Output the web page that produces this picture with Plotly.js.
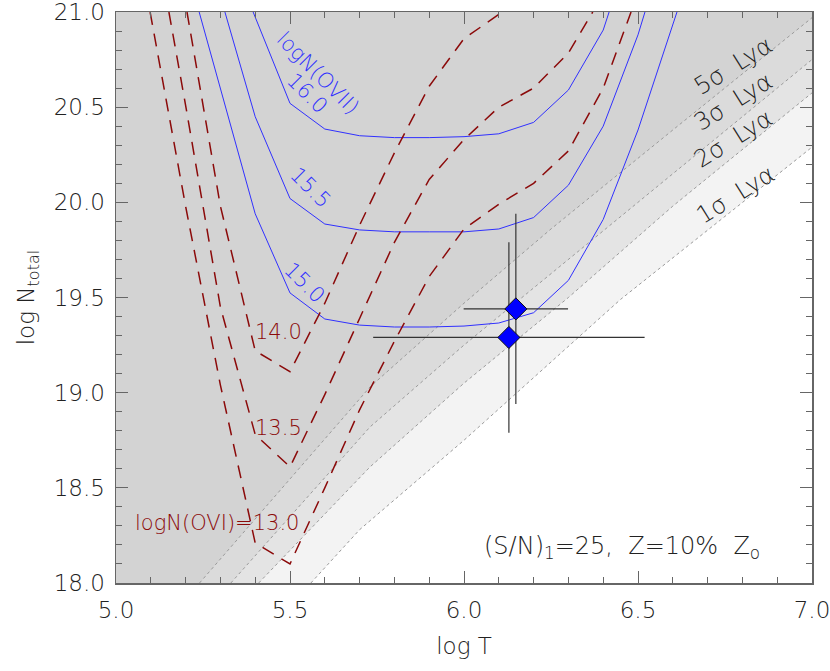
<!DOCTYPE html>
<html lang="en">
<head>
    <meta charset="UTF-8">
    <title>log N vs log T</title>
    <script src="https://cdn.plot.ly/plotly-3.0.1.min.js"></script>
    <style>
        body { margin: 0; background: #fff; }
        #plot { width: 830px; height: 671px; }
    </style>
</head>
<body>
<div id="plot"></div>
<script>

// axis extents
let xRange = [5.0, 7.0];
let yRange = [18.0, 21.0];

// Ly-alpha detection limits (boundaries of the shaded bands)
let sig5T = [5.24, 5.73, 6.0, 6.25, 6.6, 7.0];
let sig5N = [18.0, 19.03, 19.47, 19.86, 20.38, 20.97];
let sig3T = [5.33, 5.73, 6.0, 6.3, 6.6, 7.0];
let sig3N = [18.0, 18.82, 19.25, 19.7, 20.15, 20.75];
let sig2T = [5.41, 5.73, 6.0, 6.3, 6.6, 7.0];
let sig2N = [18.0, 18.61, 19.05, 19.5, 19.98, 20.575];
let sig1T = [5.56, 5.7, 6.0, 6.45, 7.0];
let sig1N = [18.0, 18.28, 18.75, 19.49, 20.29];

// logN(OVII) contours
let o7_160T = [5.394, 5.5, 5.6, 5.7, 5.8, 5.9, 6.0, 6.1, 6.2, 6.3, 6.4, 6.417];
let o7_160N = [21.0, 20.52, 20.385, 20.35, 20.34, 20.34, 20.345, 20.36, 20.42, 20.59, 20.905, 21.0];
let o7_155T = [5.313, 5.4, 5.5, 5.6, 5.7, 5.8, 5.9, 6.0, 6.1, 6.2, 6.3, 6.4, 6.5, 6.52];
let o7_155N = [21.0, 20.45, 20.02, 19.886, 19.855, 19.845, 19.845, 19.845, 19.86, 19.92, 20.09, 20.40, 20.88, 21.0];
let o7_150T = [5.239, 5.3, 5.4, 5.5, 5.6, 5.7, 5.8, 5.9, 6.0, 6.1, 6.2, 6.3, 6.4, 6.5, 6.6, 6.612];
let o7_150N = [21.0, 20.6, 19.94, 19.524, 19.387, 19.355, 19.345, 19.345, 19.35, 19.366, 19.42, 19.59, 19.91, 20.38, 20.93, 21.0];

// logN(OVI) contours
let o6_140T = [5.204, 5.3, 5.4, 5.5, 5.6, 5.7, 5.8, 5.9, 6.0, 6.11];
let o6_140N = [21.0, 19.98, 19.22, 19.11, 19.47, 19.88, 20.26, 20.61, 20.86, 21.0];
let o6_135T = [5.152, 5.2, 5.3, 5.4, 5.5, 5.6, 5.7, 5.8, 5.9, 6.0, 6.1, 6.2, 6.3, 6.37];
let o6_135N = [21.0, 20.51, 19.45, 18.78, 18.61, 18.99, 19.39, 19.79, 20.12, 20.33, 20.50, 20.60, 20.785, 21.0];
let o6_130T = [5.098, 5.2, 5.3, 5.4, 5.5, 5.6, 5.7, 5.8, 5.9, 6.0, 6.1, 6.2, 6.3, 6.4, 6.48];
let o6_130N = [21.0, 19.98, 19.04, 18.21, 18.10, 18.50, 18.91, 19.27, 19.61, 19.86, 19.99, 20.10, 20.27, 20.60, 21.0];

// measurements
let obsT = [6.149, 6.129];
let obsN = [19.44, 19.29];
let obsTerr = [0.15, 0.39];
let obsNerr = [0.5, 0.5];

// region above a boundary, closed along the top-left corner of the frame
function band(xs, ys, color) {
    return {
        x: xs.concat([xRange[1], xRange[0], xRange[0]]),
        y: ys.concat([yRange[1], yRange[1], yRange[0]]),
        mode: 'lines', fill: 'toself', fillcolor: color,
        line: { width: 0 }, hoverinfo: 'skip', showlegend: false
    };
}
function edge(xs, ys) {
    return {
        x: xs, y: ys, mode: 'lines',
        line: { color: '#9a9a9a', width: 1, dash: 'dot' },
        hoverinfo: 'skip', showlegend: false
    };
}
function contour(xs, ys, color, dash, w) {
    return {
        x: xs, y: ys, mode: 'lines',
        line: { color: color, width: w, dash: dash },
        showlegend: false
    };
}

const blue = '#3030ff';
const red = '#8b0a0a';

let data = [
    band(sig1T, sig1N, '#f3f3f3'),
    band(sig2T, sig2N, '#e4e4e4'),
    band(sig3T, sig3N, '#dbdbdb'),
    band(sig5T, sig5N, '#d3d3d3'),
    edge(sig1T, sig1N),
    edge(sig2T, sig2N),
    edge(sig3T, sig3N),
    edge(sig5T, sig5N),
    contour(o7_160T, o7_160N, blue, 'solid', 1),
    contour(o7_155T, o7_155N, blue, 'solid', 1),
    contour(o7_150T, o7_150N, blue, 'solid', 1),
    contour(o6_140T, o6_140N, red, '13px,9px', 1.5),
    contour(o6_135T, o6_135N, red, '13px,9px', 1.5),
    contour(o6_130T, o6_130N, red, '13px,9px', 1.5),
    {
        x: obsT, y: obsN, mode: 'markers',
        marker: { symbol: 'diamond', size: 17, color: '#0000ff', line: { color: '#111', width: 1 } },
        error_x: { type: 'data', array: obsTerr, color: '#333', thickness: 1.2, width: 0 },
        error_y: { type: 'data', array: obsNerr, color: '#333', thickness: 1.2, width: 0 },
        showlegend: false
    }
];

const fam = 'DejaVu Sans, Liberation Sans, sans-serif';
const wt = 200;
const sp = '\u00a0';

function label(x, y, text, color, angle, size) {
    return {
        x: x, y: y, xref: 'x', yref: 'y', text: text, showarrow: false,
        textangle: angle, font: { family: fam, weight: wt, size: size, color: color }
    };
}

let annotations = [
    label(5.580, 20.68, 'logN(OVII)', blue, 45, 21),
    label(5.549, 20.574, '16.0', blue, 45, 21),
    label(5.560, 20.075, '15.5', blue, 45, 21),
    label(5.543, 19.576, '15.0', blue, 45, 21),
    label(5.466, 19.319, '14.0', red, 0, 21),
    label(5.466, 18.814, '13.5', red, 0, 21),
    label(5.290, 18.315, 'logN(OVI)=13.0', red, 0, 21),
    label(6.773, 20.716, '5σ' + sp + ' Lyα', '#222', -32, 24),
    label(6.773, 20.527, '3σ' + sp + ' Lyα', '#222', -32, 24),
    label(6.773, 20.333, '2σ' + sp + ' Lyα', '#222', -32, 24),
    label(6.779, 20.04, '1σ' + sp + ' Lyα', '#222', -32, 24),
    label(6.454, 18.184, '(S/N)<sub>1</sub>=25,' + sp + ' Z=10%' + sp + ' Z<sub>o</sub>', '#222', 0, 24)
];

let axisCommon = {
    showgrid: false, zeroline: false,
    showline: true, linecolor: '#666', linewidth: 1.5, mirror: 'allticks',
    ticks: 'inside', ticklen: 12, tickcolor: '#666', tickwidth: 1,
    tickformat: '.1f', dtick: 0.5, ticklabeloverflow: 'allow',
    tickfont: { family: fam, weight: wt, size: 23, color: '#222' },
    minor: { dtick: 0.1, ticks: 'inside', ticklen: 6, tickcolor: '#666' }
};

let layout = {
    width: 830, height: 671,
    margin: { l: 116, r: 18, t: 12, b: 88 },
    paper_bgcolor: '#fff', plot_bgcolor: '#fff',
    xaxis: Object.assign({}, axisCommon, {
        range: xRange, tick0: 5.0, ticklabelstandoff: 6,
        title: { text: 'log T', font: { family: fam, weight: wt, size: 23, color: '#222' }, standoff: 16 }
    }),
    yaxis: Object.assign({}, axisCommon, {
        range: yRange, tick0: 18.0, ticklabelstandoff: 5,
        title: { text: 'log N<sub>total</sub>', font: { family: fam, weight: wt, size: 23, color: '#222' }, standoff: 12 }
    }),
    annotations: annotations
};

Plotly.newPlot('plot', data, layout, { displayModeBar: false, staticPlot: true });

</script>
</body>
</html>
